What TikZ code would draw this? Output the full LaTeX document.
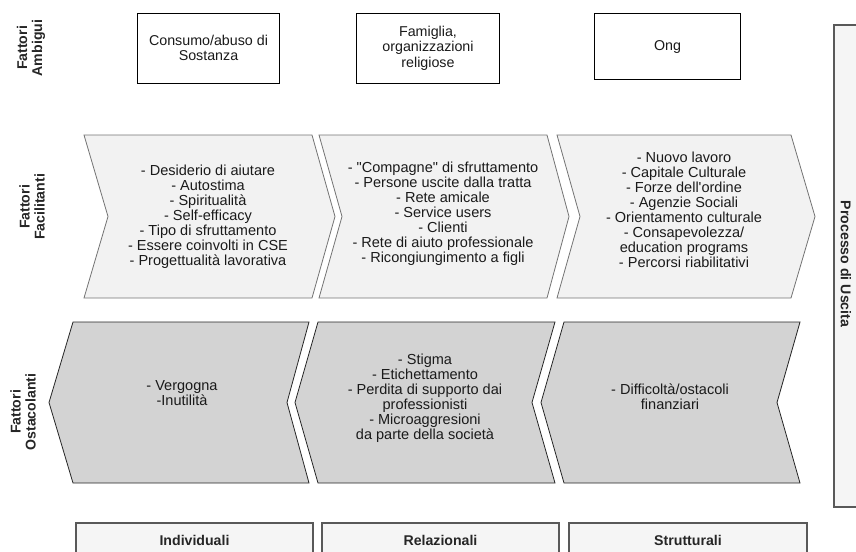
\documentclass[tikz,border=0pt]{standalone}
\usepackage{fontspec}
\setmainfont{Liberation Sans}
\usepackage{tikz}

\definecolor{facgray}{HTML}{F2F2F2}
\definecolor{ostgray}{HTML}{D3D3D3}
\definecolor{boxgray}{HTML}{F5F5F5}
\definecolor{txtgray}{HTML}{1A1A1A}

\tikzset{
  topbox/.style={draw=black, fill=white, line width=0.6pt, align=center,
    text=txtgray, font=\fontsize{10.7}{11.6}\selectfont,
    minimum width=107pt, minimum height=52.5pt, inner sep=0pt},
  facil/.style={draw=black!55, fill=facgray, line width=0.6pt},
  ostac/.style={draw=black!85, fill=ostgray, line width=0.6pt},
  basebox/.style={draw=black!65, fill=boxgray, line width=0.8pt},
  txt/.style={align=center, text=txtgray, inner sep=0pt,
    font=\fontsize{10.9}{11.3}\selectfont},
  headtxt/.style={align=center, text=black!85, inner sep=0pt,
    font=\fontsize{10.6}{11.3}\selectfont\bfseries}
}

\begin{document}
\begin{tikzpicture}[x=0.75pt,y=-0.75pt]
\useasboundingbox (0,0) rectangle (856,551);
\clip (0,0) rectangle (856,551);

% row labels
\node[headtxt, rotate=90] (lamb) at (31,48) {Fattori\\Ambigui};
\node[headtxt, rotate=90] (lfac) at (32,207) {Fattori\\Facilitanti};
\node[headtxt, rotate=90] (lost) at (23,412) {Fattori\\Ostacolanti};

% ambiguous factors
\node[topbox] (amb1) at (208.5,48) {Consumo/abuso di\\Sostanza};
\node[topbox] (amb2) at (428,48) {Famiglia,\\organizzazioni\\religiose};
\node[topbox, minimum width=110pt, minimum height=50pt] (amb3) at (667.5,46.5) {Ong};

% facilitating factors
\draw[facil] (84,135) -- (312,135) -- (335,216.5) -- (312,298) -- (84,298) -- (108,216.5) -- cycle;
\draw[facil] (319,135) -- (547,135) -- (569,216.5) -- (547,298) -- (319,298) -- (342,216.5) -- cycle;
\draw[facil] (557,135) -- (791,135) -- (815,216.5) -- (791,298) -- (557,298) -- (580,216.5) -- cycle;
\node[txt] (fac1) at (208,217) {- Desiderio di aiutare\\- Autostima\\- Spiritualità\\- Self-efficacy\\- Tipo di sfruttamento\\- Essere coinvolti in CSE\\- Progettualità lavorativa};
\node[txt] (fac2) at (443,214) {- \textquotedbl Compagne\textquotedbl{} di sfruttamento\\- Persone uscite dalla tratta\\- Rete amicale\\- Service users\\- Clienti\\- Rete di aiuto professionale\\- Ricongiungimento a figli};
\node[txt] (fac3) at (684,210) {- Nuovo lavoro\\- Capitale Culturale\\- Forze dell\textquotesingle ordine\\- Agenzie Sociali\\- Orientamento culturale\\- Consapevolezza/\\education programs\\- Percorsi riabilitativi};

% hindering factors
\draw[ostac] (49,402.5) -- (73,322) -- (309,322) -- (287,402.5) -- (309,483) -- (73,483) -- cycle;
\draw[ostac] (295,402.5) -- (318,322) -- (555,322) -- (532,402.5) -- (555,483) -- (318,483) -- cycle;
\draw[ostac] (541,402.5) -- (564,322) -- (800,322) -- (777,402.5) -- (800,483) -- (564,483) -- cycle;
\node[txt] (ost1) at (182,393) {- Vergogna\\-Inutilità};
\node[txt] (ost2) at (425,398) {- Stigma\\- Etichettamento\\- Perdita di supporto dai\\professionisti\\- Microaggresioni\\da parte della società};
\node[txt] (ost3) at (670,397) {- Difficoltà/ostacoli\\finanziari};

% levels
\draw[basebox] (76,523) rectangle (313,575);
\draw[basebox] (322,523) rectangle (559,575);
\draw[basebox] (569,523) rectangle (807,575);
\node[headtxt] (ind) at (194.5,540) {Individuali};
\node[headtxt] (rel) at (440.5,540) {Relazionali};
\node[headtxt] (str) at (688,540) {Strutturali};

% exit process
\draw[basebox] (834,25) rectangle (870,507);
\node[headtxt, rotate=-90] (proc) at (846,264) {Processo di Uscita};
\end{tikzpicture}
\end{document}
